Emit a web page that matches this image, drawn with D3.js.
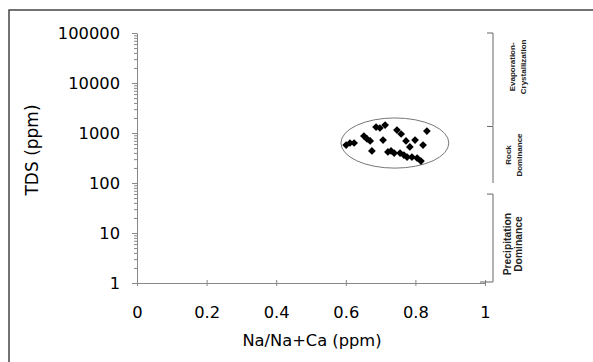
<!DOCTYPE html>
<html><head><meta charset="utf-8">
<script src="https://cdn.jsdelivr.net/npm/d3@7"></script>
<style>body{margin:0;background:#fff;} svg{display:block;font-family:"DejaVu Sans",sans-serif;}</style>
</head><body>
<svg id="c" width="593" height="362"></svg>
<script>
const xTicks = [0, 0.2, 0.4, 0.6, 0.8, 1];
const yTicks = [1, 10, 100, 1000, 10000, 100000];
const ratio = [0.601,0.612,0.624,0.652,0.661,0.670,0.675,0.687,0.698,0.713,0.707,0.747,0.759,0.773,0.784,0.799,0.730,0.739,0.756,0.767,0.776,0.790,0.805,0.816,0.822,0.833,0.721];
const tds =   [575,631,631,871,759,692,437,1318,1259,1445,724,1148,955,692,525,724,437,398,398,363,331,331,316,275,575,1096,417];
const zones = ["Evaporation-|Crystallization", "Rock|Dominance", "Precipitation|Dominance"];
const zoneTop = [100000, 1350, 60];
const zoneBot = [1400, 100, 1.1];
const zoneMid = [21000, 363, 6];
const ellipseC = [0.741, 630];
const ellipseEdge = [0.896, 2000];

const svg = d3.select("#c");
const x = d3.scaleLinear().domain([0,1]).range([137,485]);
const y = d3.scaleLog().domain([1,100000]).range([283,33]);
const FONT = "DejaVu Sans, sans-serif";

// outer frame
svg.append("path").attr("d","M9,362V10H593").attr("fill","none").attr("stroke","#444").attr("stroke-width",1.5);

// y minor ticks
const minors=[];
for(let e=0;e<5;e++) for(let m=2;m<10;m++) minors.push(m*Math.pow(10,e));
svg.append("g").attr("transform","translate(137,0)")
  .call(d3.axisLeft(y).tickValues(minors).tickSize(3).tickFormat(""))
  .call(g=>{g.select(".domain").remove(); g.selectAll("line").attr("stroke","#888");});
// y axis major
const ya = svg.append("g").attr("transform","translate(137,0)")
  .call(d3.axisLeft(y).tickValues(yTicks).tickSize(5).tickSizeOuter(0).tickPadding(12).tickFormat(d3.format("d")));
ya.select(".domain").attr("stroke","#888");
ya.selectAll("line").attr("stroke","#888");
ya.selectAll("text").attr("font-size",16.3).attr("fill","#000").attr("font-family",FONT);

// x axis
const xa = svg.append("g").attr("transform","translate(0,283)")
  .call(d3.axisBottom(x).tickValues(xTicks).tickSize(3).tickSizeOuter(0).tickPadding(20).tickFormat(d=>d3.format("")(d)));
xa.select(".domain").attr("stroke","#888");
xa.selectAll("line").attr("stroke","#888").attr("y1",-3);
xa.selectAll("text").attr("font-size",16.3).attr("fill","#000").attr("font-family",FONT);

// axis titles
svg.append("text").attr("x",312).attr("y",346).attr("text-anchor","middle").attr("font-size",16.3).attr("font-family",FONT).text("Na/Na+Ca (ppm)");
svg.append("text").attr("transform","translate(38,150) rotate(-90)").attr("text-anchor","middle").attr("font-size",17).attr("font-family",FONT).text("TDS (ppm)");

// zone brackets
const zoneX = [515, 511, 510.5];
const zoneSize = [8, 8, 10.3];
const zoneGap = [10.5, 10.5, 11];
zones.forEach((z,i)=>{
  const t=y(zoneTop[i]), b=y(zoneBot[i]);
  svg.append("path").attr("d",`M487,${t}H493V${b}`).attr("fill","none").attr("stroke","#666").attr("stroke-width",1);
  const lines=z.split("|");
  const g=svg.append("text").attr("transform",`translate(${zoneX[i]},${y(zoneMid[i])}) rotate(-90)`)
    .attr("text-anchor","middle").attr("font-size",zoneSize[i]).attr("font-weight","bold").attr("fill","#222")
    .attr("font-family","Liberation Sans, Arial, sans-serif");
  lines.forEach((l,j)=>g.append("tspan").attr("x",0).attr("dy",j===0?0:zoneGap[i]).text(l));
});
svg.append("path").attr("d",`M480,${y(1)-1}H493V${y(1.1)}`).attr("fill","none").attr("stroke","#666");

// ellipse
const cx=x(ellipseC[0]), cy=y(ellipseC[1]);
svg.append("ellipse").attr("cx",cx).attr("cy",cy)
  .attr("rx",x(ellipseEdge[0])-cx).attr("ry",cy-y(ellipseEdge[1]))
  .attr("fill","none").attr("stroke","#777").attr("stroke-width",1);

// points
svg.append("g").selectAll("path").data(ratio).join("path")
  .attr("transform",(d,i)=>`translate(${x(d)},${y(tds[i])}) rotate(45)`)
  .attr("d",d3.symbol(d3.symbolSquare,30)())
  .attr("fill","#000");
</script>
</body></html>
